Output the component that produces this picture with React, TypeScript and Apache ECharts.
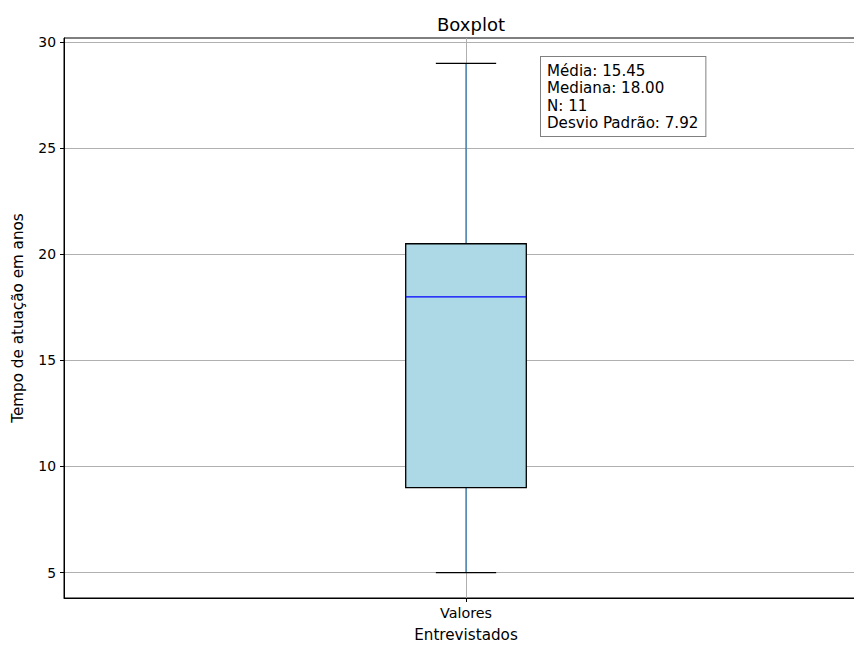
import React, { useEffect, useRef } from "react";
import * as echarts from "echarts";

const categories = ["Valores"];
const whiskerLow = [5];
const q1 = [9];
const median = [18];
const q3 = [20.5];
const whiskerHigh = [29];
const yTicks = [5, 10, 15, 20, 25, 30];
const statsLabels = ["Média", "Mediana", "N", "Desvio Padrão"];
const statsValues = ["15.45", "18.00", "11", "7.92"];

const FONT = "DejaVu Sans";

export default function App() {
  const ref = useRef<HTMLDivElement>(null);
  useEffect(() => {
    if (!ref.current) return;
    const chart = echarts.init(ref.current, null, { renderer: "svg" });
    const data = categories.map((_, i) => [
      i + 1,
      whiskerLow[i],
      q1[i],
      median[i],
      q3[i],
      whiskerHigh[i],
    ]);
    const boxHalf = 0.075;
    const capHalf = 0.0375;
    const option: any = {
      animation: false,
      backgroundColor: "#fff",
      textStyle: { fontFamily: FONT },
      title: {
        text: "Boxplot",
        left: 466,
        top: 10,
        textAlign: "center",
        textStyle: { fontFamily: FONT, fontSize: 18, fontWeight: "normal", color: "#000" },
      },
      grid: {
        left: 64,
        top: 38,
        width: 804,
        height: 560,
        show: true,
        borderColor: "#000",
        borderWidth: 1,
        backgroundColor: "transparent",
        containLabel: false,
        outerBoundsMode: "none",
      },
      xAxis: {
        type: "value",
        min: 0.5,
        max: 1.5,
        interval: 0.5,
        name: "Entrevistados",
        nameLocation: "middle",
        nameGap: 29,
        nameTextStyle: { fontFamily: FONT, fontSize: 15.2, color: "#000" },
        axisLine: { show: true, lineStyle: { color: "#000", width: 1 } },
        axisTick: { show: true, customValues: [1], length: 4, lineStyle: { color: "#000" } },
        axisLabel: {
          customValues: [1],
          margin: 8,
          fontFamily: FONT,
          fontSize: 14.3,
          color: "#000",
          formatter: (v: number) => (Math.abs(v - 1) < 1e-9 ? categories[0] : ""),
        },
        splitLine: {
          show: true,
          lineStyle: { color: "#b0b0b0", width: 1 },
        },
      },
      yAxis: {
        type: "value",
        min: 3.8,
        max: 30.2,
        splitNumber: 5,
        name: "Tempo de atuação em anos",
        nameLocation: "middle",
        nameGap: 39,
        nameRotate: 90,
        nameTextStyle: { fontFamily: FONT, fontSize: 15.2, color: "#000" },
        axisLine: { show: true, lineStyle: { color: "#000", width: 1 } },
        axisTick: { show: true, customValues: yTicks, length: 4, lineStyle: { color: "#000" } },
        axisLabel: {
          customValues: yTicks,
          margin: 8,
          fontFamily: FONT,
          fontSize: 13.9,
          color: "#000",
          formatter: (v: number) => (yTicks.indexOf(v) >= 0 ? String(v) : ""),
        },
        splitLine: {
          show: true,
          lineStyle: { color: "#b0b0b0", width: 1 },
        },
      },
      series: [
        {
          type: "custom",
          data,
          z: 5,
          renderItem: (params: any, api: any) => {
            const x = api.value(0);
            const lo = api.value(1);
            const a = api.value(2);
            const m = api.value(3);
            const b = api.value(4);
            const hi = api.value(5);
            const pBL = api.coord([x - boxHalf, a]);
            const pTR = api.coord([x + boxHalf, b]);
            const pc = (yy: number) => api.coord([x, yy]);
            const capL = (yy: number) => api.coord([x - capHalf, yy]);
            const capR = (yy: number) => api.coord([x + capHalf, yy]);
            const mL = api.coord([x - boxHalf, m]);
            const mR = api.coord([x + boxHalf, m]);
            return {
              type: "group",
              children: [
                {
                  type: "line",
                  shape: { x1: pc(lo)[0], y1: pc(lo)[1], x2: pc(a)[0], y2: pc(a)[1] },
                  style: { stroke: "#1f77b4", lineWidth: 1.2 },
                },
                {
                  type: "line",
                  shape: { x1: pc(b)[0], y1: pc(b)[1], x2: pc(hi)[0], y2: pc(hi)[1] },
                  style: { stroke: "#1f77b4", lineWidth: 1.2 },
                },
                {
                  type: "line",
                  shape: { x1: capL(lo)[0], y1: capL(lo)[1], x2: capR(lo)[0], y2: capR(lo)[1] },
                  style: { stroke: "#000", lineWidth: 1.2 },
                },
                {
                  type: "line",
                  shape: { x1: capL(hi)[0], y1: capL(hi)[1], x2: capR(hi)[0], y2: capR(hi)[1] },
                  style: { stroke: "#000", lineWidth: 1.2 },
                },
                {
                  type: "rect",
                  shape: {
                    x: pBL[0],
                    y: pTR[1],
                    width: pTR[0] - pBL[0],
                    height: pBL[1] - pTR[1],
                  },
                  style: { fill: "#add8e6", stroke: "#000", lineWidth: 1.3 },
                },
                {
                  type: "line",
                  shape: { x1: mL[0], y1: mL[1], x2: mR[0], y2: mR[1] },
                  style: { stroke: "#0000ff", lineWidth: 1.3 },
                },
              ],
            };
          },
        },
      ],
      graphic: [
        {
          type: "text",
          left: 540,
          top: 56,
          z: 100,
          style: {
            text: statsLabels.map((l, i) => `${l}: ${statsValues[i]}`).join("\n"),
            fontFamily: FONT,
            fontSize: 15.1,
            lineHeight: 17.5,
            fill: "#000",
            backgroundColor: "#fff",
            borderColor: "#808080",
            borderWidth: 1,
            padding: [5, 7, 4, 6],
          },
        },
      ],
    };
    chart.setOption(option);
    return () => chart.dispose();
  }, []);
  return (
    <div
      style={{
        position: "absolute",
        left: 0,
        top: 0,
        width: 854,
        height: 646,
        overflow: "hidden",
      }}
    >
      <div ref={ref} style={{ width: 900, height: 646 }} />
    </div>
  );
}
